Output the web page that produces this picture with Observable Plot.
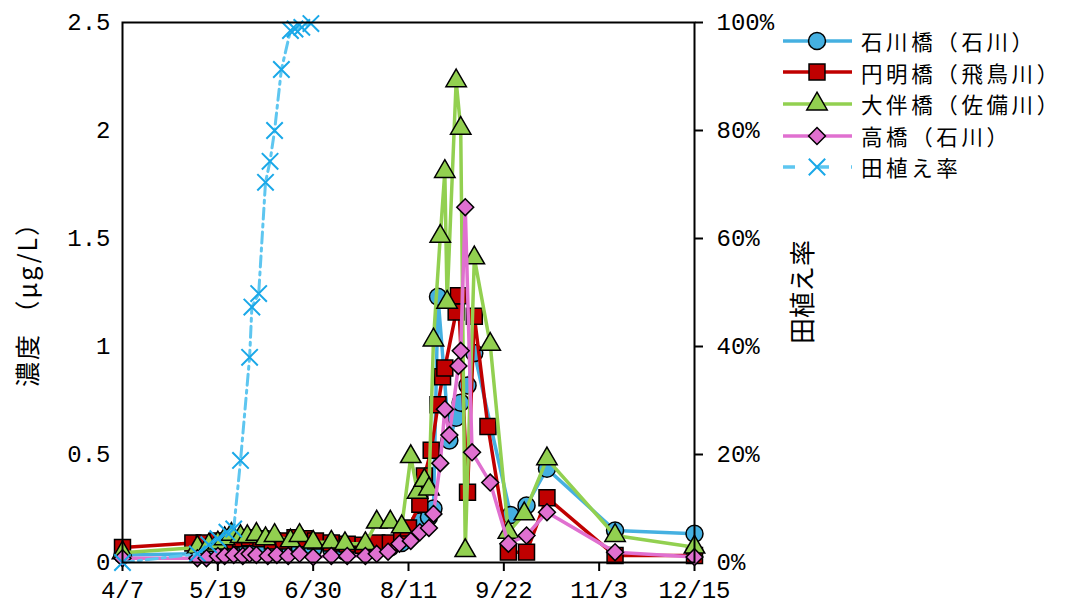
<!DOCTYPE html>
<html><head><meta charset="utf-8">
<script src="https://cdn.jsdelivr.net/npm/d3@7"></script>
<script src="https://cdn.jsdelivr.net/npm/@observablehq/plot@0.6"></script>
<style>
body{margin:0;background:#fff;}
#wrap{position:relative;width:1079px;height:609px;overflow:hidden;background:#fff;}
.ttl{position:absolute;font-family:"Noto Sans CJK JP";white-space:nowrap;color:#000;line-height:1;transform:translate(-50%,-50%) rotate(-90deg);}
#legend{position:absolute;left:775px;top:25px;}
.lrow{display:flex;align-items:center;height:31.6px;overflow:visible;}
.lrow svg{flex:none;}
.lrow span{font-family:"Noto Sans CJK JP";font-size:21.5px;letter-spacing:3.6px;line-height:31.6px;display:inline-block;white-space:nowrap;color:#000;margin-left:6px;}
</style></head>
<body><div id="wrap"></div>
<script>
const year = 2021;
// x-axis tick labels
const tickDates = ["4/7","5/19","6/30","8/11","9/22","11/3","12/15"];
// left y-axis ticks (濃度 µg/L)
const leftTicks = [0, 0.5, 1, 1.5, 2, 2.5];
const leftTickLabels = ["0","0.5","1","1.5","2","2.5"];
// right y-axis ticks (田植え率)
const rightTickLabels = ["0%","20%","40%","60%","80%","100%"];
const rightMax = 100; // 100% on the right axis is aligned with 2.5 on the left

const seriesNames = ["石川橋（石川）","円明橋（飛鳥川）","大伴橋（佐備川）","高橋（石川）","田植え率"];

// 石川橋（石川）
const ishikawaDates = ["4/7","5/10","5/15","5/19","5/22","5/25","5/29","6/1","6/5","6/9","6/13","6/20","6/24","6/30","7/8","7/14","7/23","7/28","8/3","8/8","8/12","8/16","8/20","8/22","8/24","8/29","9/1","9/3","9/6","9/9","9/25","10/2","10/11","11/10","12/15"];
const ishikawaValues = [0.035,0.04,0.05,0.05,0.06,0.06,0.06,0.07,0.07,0.06,0.06,0.06,0.07,0.06,0.06,0.05,0.05,0.06,0.07,0.09,0.12,0.19,0.21,0.25,1.23,0.565,0.67,0.74,0.82,0.97,0.22,0.264,0.434,0.148,0.133];

// 円明橋（飛鳥川）
const enmyoDates = ["4/7","5/8","5/13","5/19","5/24","5/29","6/2","6/7","6/12","6/17","6/22","6/26","7/1","7/8","7/15","7/22","7/28","8/3","8/8","8/11","8/16","8/18","8/21","8/24","8/26","8/27","9/1","9/2","9/6","9/9","9/15","9/24","10/2","10/11","11/10","12/15"];
const enmyoValues = [0.07,0.09,0.09,0.1,0.1,0.11,0.115,0.11,0.1,0.1,0.115,0.11,0.1,0.09,0.085,0.08,0.09,0.09,0.12,0.16,0.27,0.40,0.52,0.73,0.86,0.90,1.16,1.235,0.325,1.14,0.63,0.048,0.048,0.30,0.032,0.032];

// 大伴橋（佐備川）
const otomoDates = ["4/7","5/10","5/15","5/19","5/22","5/25","5/29","6/1","6/5","6/9","6/13","6/20","6/24","6/30","7/8","7/14","7/23","7/28","8/3","8/8","8/12","8/15","8/18","8/20","8/22","8/25","8/27","8/28","9/1","9/3","9/5","9/9","9/16","9/24","10/1","10/11","11/10","12/15"];
const otomoValues = [0.045,0.07,0.08,0.09,0.11,0.13,0.12,0.12,0.13,0.11,0.125,0.10,0.125,0.094,0.094,0.087,0.087,0.187,0.187,0.165,0.49,0.325,0.38,0.34,1.03,1.51,1.81,1.205,2.23,2.01,0.055,1.41,1.01,0.14,0.225,0.48,0.125,0.071];

// 高橋（石川）
const takahashiDates = ["4/7","5/10","5/14","5/19","5/22","5/26","5/30","6/2","6/5","6/10","6/14","6/19","6/24","6/30","7/8","7/15","7/23","7/28","8/2","8/7","8/12","8/16","8/20","8/22","8/25","8/27","8/29","9/2","9/3","9/5","9/8","9/16","9/24","10/2","10/11","11/10","12/15"];
const takahashiValues = [0.02,0.02,0.02,0.03,0.03,0.035,0.03,0.04,0.035,0.03,0.035,0.03,0.04,0.025,0.03,0.03,0.03,0.04,0.05,0.087,0.10,0.14,0.16,0.225,0.46,0.71,0.59,0.91,0.98,1.645,0.51,0.37,0.087,0.125,0.233,0.048,0.025];

// 田植え率 (%)
const riceDates = ["4/7","5/10","5/15","5/19","5/23","5/26","5/29","6/2","6/3","6/6","6/9","6/11","6/13","6/16","6/20","6/22","6/25","6/29"];
const riceRates = [0,1.6,3.3,4.4,5.6,6.2,18.9,38,47.3,49.8,70.4,74.3,80,91.3,98.5,98.8,99.1,99.8];

const parse = s => { const [m, d] = s.split("/").map(Number); return new Date(Date.UTC(year, m - 1, d)); };
const fmt = d => `${d.getUTCMonth() + 1}/${d.getUTCDate()}`;
const rows = (dates, values) => dates.map((d, i) => ({date: parse(d), value: values[i]}));

const concSeries = [
  {name: seriesNames[0], data: rows(ishikawaDates, ishikawaValues), color: "#45B0E1", symbol: "circle", r: 8.5},
  {name: seriesNames[1], data: rows(enmyoDates, enmyoValues), color: "#C00000", symbol: "square", r: 9},
  {name: seriesNames[2], data: rows(otomoDates, otomoValues), color: "#92D050", symbol: "triangle", r: 7.6},
  {name: seriesNames[3], data: rows(takahashiDates, takahashiValues), color: "#E070D0", symbol: "diamond2", r: 7.6}
];
const rice = {name: seriesNames[4], data: rows(riceDates, riceRates), line: "#5EC6F0", color: "#1AA8E8", symbol: "times", r: 7.5};
const riceY = d => d.value / rightMax * leftTicks[leftTicks.length - 1];
const riceDash = "11,5,3,5";

const tickFont = "Liberation Mono";
const marks = [];
for (const s of concSeries) {
  marks.push(Plot.line(s.data, {x: "date", y: "value", stroke: s.color, strokeWidth: 3.5}));
  marks.push(Plot.dot(s.data, {x: "date", y: "value", symbol: s.symbol, r: s.r, fill: s.color, stroke: "black", strokeWidth: 1.5}));
}
marks.push(Plot.line(rice.data, {x: "date", y: riceY, stroke: rice.line, strokeWidth: 3, strokeDasharray: riceDash}));
marks.push(Plot.dot(rice.data, {x: "date", y: riceY, symbol: rice.symbol, r: rice.r, stroke: rice.color, strokeWidth: 2}));

const chart = Plot.plot({
  width: 1079, height: 609,
  marginLeft: 122, marginRight: 385, marginTop: 22, marginBottom: 47,
  style: {background: "white", color: "black", overflow: "visible"},
  x: {type: "utc", domain: [parse(tickDates[0]), parse(tickDates[tickDates.length - 1])]},
  y: {domain: [0, 2.5]},
  marks: [
    Plot.axisX({ticks: tickDates.map(parse), tickFormat: fmt, tickSize: 9, tickPadding: 9, strokeWidth: 2, fontSize: 24, fontFamily: tickFont, label: null}),
    Plot.axisY({anchor: "left", ticks: leftTicks, tickFormat: (d, i) => leftTickLabels[i], tickSize: 0, tickPadding: 12, fontSize: 24, fontFamily: tickFont, label: null}),
    Plot.axisY({anchor: "right", ticks: leftTicks, tickFormat: (d, i) => rightTickLabels[i], tickSize: 8, tickPadding: 14, strokeWidth: 2, fontSize: 24, fontFamily: tickFont, label: null}),
    ...marks,
    Plot.frame({stroke: "black", strokeWidth: 2})
  ]
});
const wrap = document.getElementById("wrap");
wrap.appendChild(chart);

// axis titles
const lt = document.createElement("div");
lt.className = "ttl"; lt.textContent = "濃度 （μg/L）";
lt.style.fontSize = "25px"; lt.style.letterSpacing = "2px";
lt.style.left = "26px"; lt.style.top = "298px";
wrap.appendChild(lt);
const rt = document.createElement("div");
rt.className = "ttl"; rt.textContent = "田植え率";
rt.style.fontSize = "26px";
rt.style.left = "801px"; rt.style.top = "292px";
wrap.appendChild(rt);

// legend
const symMap = {circle: d3.symbolCircle, square: d3.symbolSquare, triangle: d3.symbolTriangle, diamond2: d3.symbolDiamond2, times: d3.symbolTimes};
const legend = d3.select(wrap).append("div").attr("id", "legend");
[...concSeries, rice].forEach(s => {
  const isRice = s === rice;
  const row = legend.append("div").attr("class", "lrow");
  const svg = row.append("svg").attr("width", 80).attr("height", 32);
  svg.append("line").attr("x1", 8).attr("x2", 77).attr("y1", 16).attr("y2", 16)
    .attr("stroke", isRice ? rice.line : s.color).attr("stroke-width", 3.5)
    .attr("stroke-dasharray", isRice ? "12,22,0,0" : null);
  const p = svg.append("path").attr("transform", "translate(42,16)")
    .attr("d", d3.symbol(symMap[s.symbol], Math.PI * s.r * s.r)());
  if (isRice) p.attr("fill", "none").attr("stroke", rice.color).attr("stroke-width", 2);
  else p.attr("fill", s.color).attr("stroke", "black").attr("stroke-width", 1.5);
  row.append("span").text(s.name);
});
</script>
</body></html>
